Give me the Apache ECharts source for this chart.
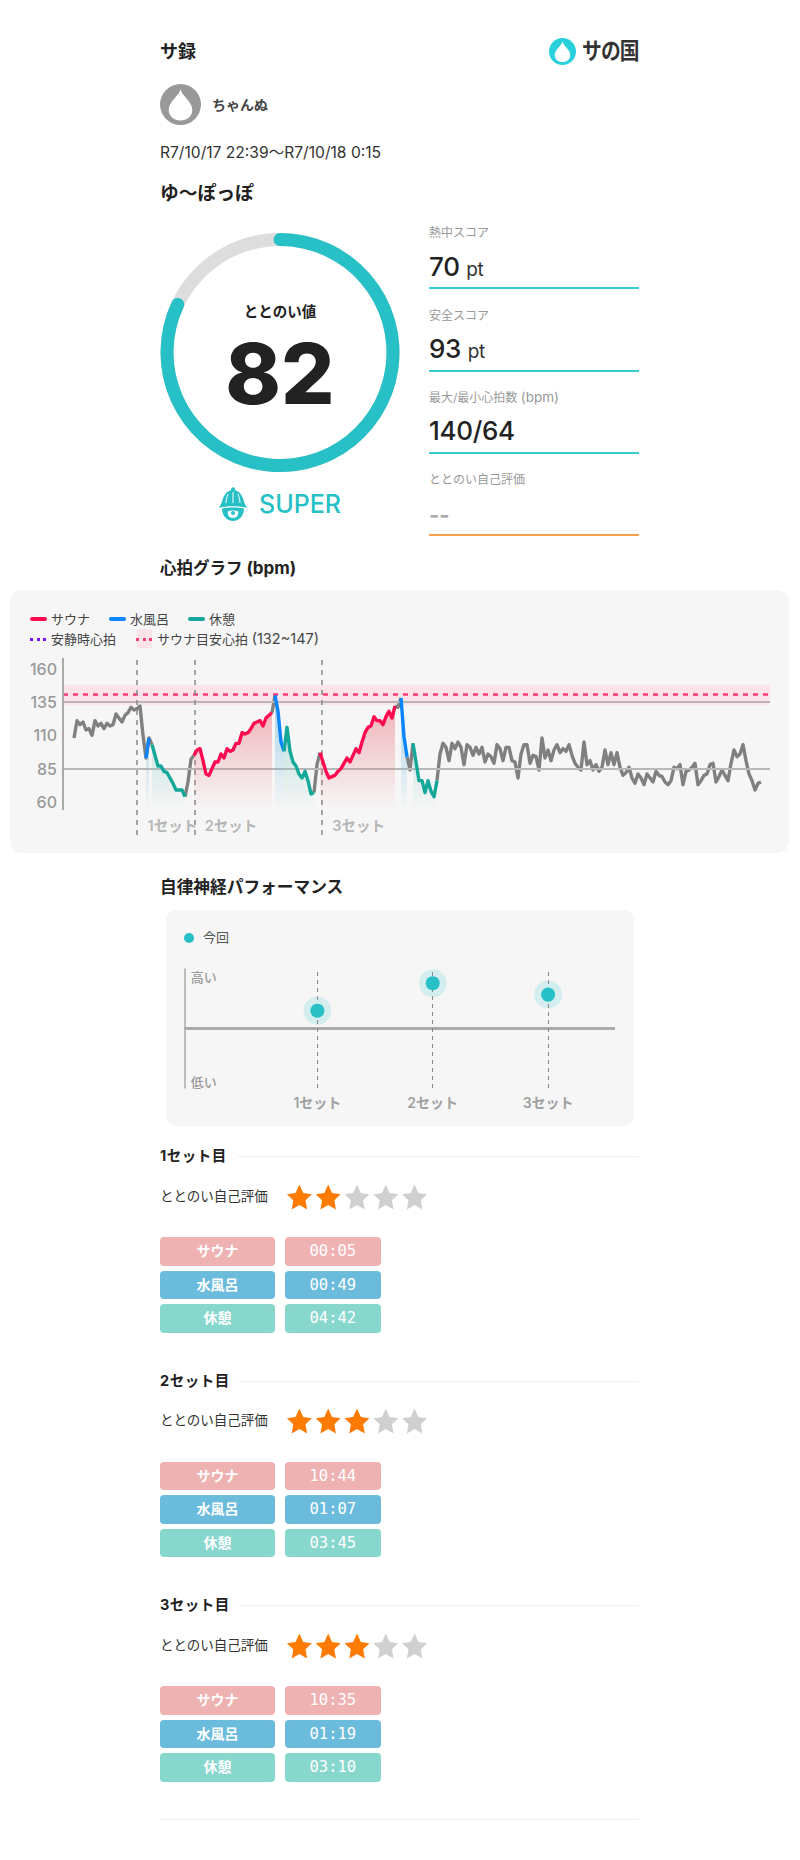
<!DOCTYPE html>
<html lang="ja">
<head>
<meta charset="utf-8">
<title>サ録</title>
<script src="https://cdn.jsdelivr.net/npm/echarts@6/dist/echarts.min.js"></script>
<style>
html,body{margin:0;padding:0;background:#fff;}
body{position:relative;width:800px;height:1860px;overflow:hidden;font-family:Inter,"Noto Sans CJK JP",sans-serif;color:#222;}
.t{position:absolute;white-space:nowrap;transform:translateY(-50%);line-height:1;}
.box{position:absolute;}
.b{font-weight:700;}
.lab{font-size:12px;color:#999;left:429px;}
.num{font-size:26px;font-weight:500;left:429px;color:#222;letter-spacing:-.3px;}
.num small{font-size:19px;font-weight:400;color:#333;}
.rule{position:absolute;left:429px;width:210px;height:2px;background:#35ccd4;}
.panel{position:absolute;background:#f6f6f6;}
.leg{font-size:13px;color:#444;}
.cell{position:absolute;height:28.5px;line-height:28.5px;border-radius:4px;color:#fff;text-align:center;font-size:14px;font-weight:700;}
.cell.time{font-family:"DejaVu Sans Mono",monospace;font-size:15.5px;font-weight:400;}
</style>
</head>
<body>
<div class="t b" style="left:160px;top:52px;font-size:18px;">サ録</div>
<svg class="box" style="left:549px;top:38px;" width="27" height="27" viewBox="0 0 40 40"><circle cx="20" cy="20" r="20" fill="#2ad0dc"/><path d="M20 5C21 11 31.5 17 31.5 25C31.5 31.5 26.5 35.5 20 35.5C13.5 35.5 8.5 31.5 8.5 25C8.5 17 19 11 20 5Z" fill="#fff"/></svg>
<div class="t b" style="left:582px;top:51px;font-size:23px;color:#333;letter-spacing:-1px;transform:translateY(-50%) scaleX(.86);transform-origin:left center;">サの国</div>

<svg class="box" style="left:160px;top:84px;" width="41" height="41" viewBox="0 0 40 40"><circle cx="20" cy="20" r="20" fill="#999"/><path d="M20 5C21 11 31.5 17 31.5 25C31.5 31.5 26.5 35.5 20 35.5C13.5 35.5 8.5 31.5 8.5 25C8.5 17 19 11 20 5Z" fill="#fff"/></svg>
<div class="t b" style="left:212px;top:104.5px;font-size:14px;color:#444;">ちゃんぬ</div>
<div class="t" style="left:160px;top:153px;font-size:15.6px;color:#333;">R7/10/17 22:39～R7/10/18 0:15</div>
<div class="t b" style="left:160px;top:194px;font-size:18.8px;">ゆ〜ぽっぽ</div>

<div id="ringChart" class="box" style="left:150px;top:223px;width:260px;height:260px;"></div>

<svg class="box" style="left:219px;top:487px;" width="28" height="34" viewBox="0 0 28 34"><circle cx="14" cy="2.2" r="2" fill="#26c0c6"/><path d="M14 3C21 3 24 10 25 15L28 21C22 18.5 6 18.5 0 21L3 15C4 10 7 3 14 3Z" fill="#26c0c6"/><path d="M14 5V16M9 7C8 10 7 13 7 16M19 7C20 10 21 13 21 16" stroke="#fff" stroke-width="1" fill="none"/><path d="M3 21.5C6 20 22 20 25 21.5C25 29 20 34 14 34C8 34 3 29 3 21.5Z" fill="#26c0c6"/><path d="M8.5 24.5C11 23 17 23 19.5 24.5L18.5 29C17 31.5 11 31.5 9.5 29Z" fill="#fff"/><circle cx="14" cy="26" r="2" fill="#26c0c6"/></svg>
<div class="t" style="left:259px;top:504px;font-size:25px;font-weight:500;color:#26c0c6;">SUPER</div>

<div class="t lab" style="top:233px;">熱中スコア</div>
<div class="t num" style="top:266.5px;">70 <small>pt</small></div>
<div class="rule" style="top:287px;"></div>
<div class="t lab" style="top:315.5px;">安全スコア</div>
<div class="t num" style="top:349px;">93 <small>pt</small></div>
<div class="rule" style="top:369.5px;"></div>
<div class="t lab" style="top:398px;">最大/最小心拍数 <span style="font-size:13.5px;">(bpm)</span></div>
<div class="t num" style="top:431px;">140/64</div>
<div class="rule" style="top:452px;"></div>
<div class="t lab" style="top:480px;">ととのい自己評価</div>
<div class="t b" style="left:429px;top:515px;font-size:22px;color:#aaa;">--</div>
<div class="rule" style="top:529.5px;height:1px;background:#f4f4f4;"></div>
<div class="rule" style="top:533.5px;background:#f8a04c;"></div>

<div class="t b" style="left:160px;top:568px;font-size:16.5px;">心拍グラフ <span style="font-size:17px;">(bpm)</span></div>
<div class="panel" style="left:10px;top:590px;width:779px;height:263px;border-radius:12px;"></div>
<div class="box" style="left:30px;top:617px;width:17px;height:4px;border-radius:2px;background:#ff0a50;"></div>
<div class="t leg" style="left:51px;top:619px;">サウナ</div>
<div class="box" style="left:109px;top:617px;width:17px;height:4px;border-radius:2px;background:#0a84ff;"></div>
<div class="t leg" style="left:130px;top:619px;">水風呂</div>
<div class="box" style="left:188px;top:617px;width:17px;height:4px;border-radius:2px;background:#14a89a;"></div>
<div class="t leg" style="left:209px;top:619px;">休憩</div>
<div class="box" style="left:30px;top:637.5px;width:16px;height:0;border-top:3px dotted #7a10ff;"></div>
<div class="t leg" style="left:51px;top:639px;">安静時心拍</div>
<div class="box" style="left:137px;top:629px;width:15px;height:19px;background:#fce3ea;"></div>
<div class="box" style="left:136px;top:637.5px;width:16px;height:0;border-top:3px dotted #ff3d78;"></div>
<div class="t leg" style="left:157px;top:639px;">サウナ目安心拍 <span style="font-size:14.5px;">(132~147)</span></div>
<div id="hrChart" class="box" style="left:10px;top:590px;width:779px;height:263px;"></div>

<div class="t b" style="left:160px;top:887px;font-size:16.7px;">自律神経パフォーマンス</div>
<div class="panel" style="left:166px;top:910px;width:468px;height:216px;border-radius:10px;"></div>
<div class="box" style="left:184px;top:933px;width:10px;height:10px;border-radius:50%;background:#26c0c6;"></div>
<div class="t" style="left:203px;top:937px;font-size:13px;color:#555;">今回</div>
<div id="ansChart" class="box" style="left:166px;top:910px;width:468px;height:216px;"></div>

<div id="sets"></div>
<div class="box" style="left:160px;top:1819px;width:479px;height:1px;background:#f0f0f0;"></div>

<script>
// heart rate, one value every 3px of plot width
const bpmValues = [
  108,121,118,120,114,115,110,121,117,119,115,119,117,118,126,123,120,125,127,131,129,130,132,
  110,93,108,103,95,87,87,83,82,78,74,69,69,69,64,75,92,95,
  99,100,91,81,80,85,90,90,96,93,100,98,99,104,104,112,111,112,115,119,120,121,117,123,125,127,
  140,128,105,98,116,98,90,87,81,78,83,76,66,67,88,97,
  90,83,78,79,80,83,85,89,93,90,95,100,97,105,112,116,117,124,121,121,118,124,128,123,132,131,138,
  109,94,84,104,90,76,76,67,76,68,64,76,
  96,104,101,91,104,100,105,101,88,103,101,95,101,96,101,90,96,94,89,103,100,91,101,101,91,90,78,96,
  103,103,89,95,94,84,108,93,99,91,99,103,97,100,98,103,95,89,86,84,105,88,91,84,88,83,86,99,88,97,88,97,
  86,80,82,86,78,74,81,78,73,81,78,75,83,80,79,75,73,76,86,85,88,73,83,84,86,89,73,76,80,81,88,89,75,79,84,80,76,89,
  99,94,96,103,91,81,76,69,74,75
];
// index ranges of bpmValues per phase
const saunaRanges = [[40,66],[82,107]];
const waterRanges = [[24,25],[67,70],[109,111]];
const restRanges = [[26,37],[70,80],[113,121]];
const otherRanges = [[0,24],[25,26],[37,40],[66,67],[80,82],[107,109],[111,113],[121,229]];
const bpmTicks = [60,85,110,135,160];
const guideLines = [85,135];
const targetBand = [133,148];
const targetLine = 140.7;
const setStarts = [21,40.1,82.6];
const setNames = ['1セット','2セット','3セット'];

const ringValue = 82;
const ringName = 'ととのい値';

const ansValues = [0.30,0.76,0.57];
const ansLabels = ['低い','高い'];

const setTitles = ['1セット目','2セット目','3セット目'];
const setRatings = [2,3,3];
const saunaTimes = ['00:05','10:44','10:35'];
const waterTimes = ['00:49','01:07','01:19'];
const restTimes = ['04:42','03:45','03:10'];
const setTops = [1156,1380.6,1605];

const FONT = 'Inter,"Noto Sans CJK JP",sans-serif';
const STAR = 'path://M12 1l3.4 7.2 7.6 1-5.6 5.3 1.4 7.8-6.8-3.8-6.8 3.8 1.4-7.8L1 9.2l7.6-1z';

function chart_init(id){
    return echarts.init(document.getElementById(id),null,{renderer:'svg'});
}
function fade(top,bottom){
    return new echarts.graphic.LinearGradient(0,0,0,1,[{offset:0,color:top},{offset:1,color:bottom}]);
}
function pick(ranges){
    return bpmValues.map((v,i)=>[i, ranges.some(r=>i>=r[0]&&i<=r[1]) ? v : null]);
}
function phase_series(name,ranges,color,area){
    let s = {
        name:name,type:'line',data:pick(ranges),symbol:'none',animation:false,silent:true,
        connectNulls:false,lineStyle:{color:color,width:3.4,join:'round'},z:5
    };
    if(area) s.areaStyle = {origin:54,opacity:1,color:fade(area[0],area[1])};
    return s;
}

// ring
chart_init('ringChart').setOption({
    animation:false,
    series:[{
        type:'gauge',center:[130,129.5],radius:119.5,startAngle:90,endAngle:-270,min:0,max:100,
        pointer:{show:false},axisTick:{show:false},splitLine:{show:false},axisLabel:{show:false},
        axisLine:{lineStyle:{width:13,color:[[1,'#dddddd']]}},
        progress:{show:true,roundCap:true,width:13,itemStyle:{color:'#26c0c6'}},
        data:[{
            value:ringValue,name:ringName,
            title:{offsetCenter:[0,-41],fontSize:14.5,fontWeight:700,color:'#222',fontFamily:FONT},
            detail:{offsetCenter:[0,20.5],fontSize:84,fontWeight:800,color:'#222',fontFamily:FONT,valueAnimation:false}
        }]
    }]
});

// heart rate
let otherSeries = phase_series('その他',otherRanges,'#808080');
otherSeries.z = 4;
otherSeries.markArea = {silent:true,itemStyle:{color:'#fce3ea'},data:[[{yAxis:targetBand[0]},{yAxis:targetBand[1]}]]};
otherSeries.markLine = {
    silent:true,symbol:'none',animation:false,label:{show:false},
    data:[
        {yAxis:guideLines[0],lineStyle:{color:'#b8b8b8',width:2,type:'solid'}},
        {yAxis:guideLines[1],lineStyle:{color:'#b8b8b8',width:2,type:'solid'}},
        {yAxis:targetLine,lineStyle:{color:'#ff3d78',width:2.5,type:[5,5]}},
        [{coord:[-3.667,54],lineStyle:{color:'#aaa',width:2,type:'solid'}},{coord:[-3.667,168]}]
    ].concat(setStarts.map(x=>({xAxis:x,lineStyle:{color:'#888',width:1.5,type:[5,5]}})))
};
chart_init('hrChart').setOption({
    animation:false,
    grid:{left:53,top:67,width:707,height:178},
    xAxis:{type:'value',min:-3.667,max:232,show:false},
    yAxis:{
        type:'value',min:35.25,max:168.75,
        axisLine:{show:false},axisTick:{show:false},splitLine:{show:false},
        axisLabel:{customValues:bpmTicks,margin:6,fontSize:16,fontWeight:500,color:'#999',fontFamily:FONT}
    },
    series:[
        otherSeries,
        phase_series('サウナ',saunaRanges,'#ff0a50',['rgba(232,110,120,.48)','rgba(232,110,120,0)']),
        phase_series('水風呂',waterRanges,'#0a84ff',['rgba(100,180,220,.55)','rgba(100,180,220,0)']),
        phase_series('休憩',restRanges,'#14a89a',['rgba(110,200,185,.42)','rgba(110,200,185,0)']),
        {
            type:'scatter',symbolSize:1,silent:true,animation:false,itemStyle:{color:'transparent'},
            data:setStarts.map(x=>[x,42.75]),
            label:{show:true,position:'right',distance:10,fontSize:14.5,fontWeight:600,color:'#a5a5a5',fontFamily:FONT,
                formatter:p=>setNames[p.dataIndex]}
        }
    ]
});

// autonomic nerve chart
chart_init('ansChart').setOption({
    animation:false,
    grid:{left:18.7,top:59,width:430.3,height:119},
    xAxis:{
        type:'value',min:-0.15,max:3.58,
        axisLine:{show:false},axisTick:{show:false},splitLine:{show:false},
        axisLabel:{customValues:[1,2,3],margin:7,fontSize:14,fontWeight:600,color:'#a0a0a0',fontFamily:FONT,
            formatter:v=>setNames[v-1]}
    },
    yAxis:{
        type:'value',min:-1,max:1,
        axisLine:{show:true,onZero:false,lineStyle:{color:'#aaa',width:1.5}},axisTick:{show:false},splitLine:{show:false},
        axisLabel:{inside:true,customValues:[-0.9,0.86],margin:6,fontSize:13,fontWeight:500,color:'#999',fontFamily:FONT,
            formatter:v=>ansLabels[v<0?0:1]}
    },
    series:[
        {
            type:'scatter',symbolSize:28,silent:true,itemStyle:{color:'rgba(38,192,198,.2)'},
            data:ansValues.map((v,i)=>[i+1,v]),
            markLine:{
                silent:true,symbol:'none',animation:false,label:{show:false},
                data:[
                    {yAxis:0,lineStyle:{color:'#aaa',width:3,type:'solid'}},
                    {xAxis:1,lineStyle:{color:'#888',width:1,type:[4,4]}},
                    {xAxis:2,lineStyle:{color:'#888',width:1,type:[4,4]}},
                    {xAxis:3,lineStyle:{color:'#888',width:1,type:[4,4]}}
                ]
            }
        },
        {type:'scatter',symbolSize:14,silent:true,itemStyle:{color:'#26c0c6',opacity:1},data:ansValues.map((v,i)=>[i+1,v]),z:6}
    ]
});

// set sections
const sets = document.getElementById('sets');
function add_cell(left,width,top,color,text,time){
    let d = document.createElement('div');
    d.className = 'cell'+(time?' time':'');
    d.style.cssText = `left:${left}px;width:${width}px;top:${top}px;background:${color};`;
    d.textContent = text;
    sets.appendChild(d);
}
function add_text(left,top,size,text,weight,color,extra){
    let d = document.createElement('div');
    d.className = 't';
    d.style.cssText = `left:${left}px;top:${top}px;font-size:${size}px;font-weight:${weight};color:${color};${extra||''}`;
    d.textContent = text;
    sets.appendChild(d);
}
setTitles.forEach((title,n)=>{
    let y = setTops[n];
    add_text(160,y,14.5,title,700,'#222','letter-spacing:.5px;');
    let line = document.createElement('div');
    line.className = 'box';
    line.style.cssText = `left:238px;top:${y}px;width:401px;height:1px;background:#f0f0f0;`;
    sets.appendChild(line);
    add_text(160,y+40.5,13.5,'ととのい自己評価',400,'#333');

    let star = document.createElement('div');
    star.id = 'star'+n;
    star.className = 'box';
    star.style.cssText = `left:285px;top:${y+25.5}px;width:143.5px;height:30px;`;
    sets.appendChild(star);
    chart_init(star.id).setOption({
        animation:false,
        grid:{left:0,right:0,top:0,bottom:0},
        xAxis:{type:'value',min:-0.5,max:4.5,show:false},
        yAxis:{type:'value',min:0,max:1,show:false},
        series:[{
            type:'scatter',symbol:STAR,symbolSize:25,silent:true,
            data:[0,1,2,3,4].map(i=>({value:[i,0.5],itemStyle:{color:i<setRatings[n]?'#ff7a00':'#d0d0d0',opacity:1}}))
        }]
    });

    [[saunaTimes,'サウナ','#efb2b2',81.3],[waterTimes,'水風呂','#6bbcdc',114.7],[restTimes,'休憩','#87d7cd',148]].forEach(r=>{
        add_cell(160,115,y+r[3],r[2],r[1],false);
        add_cell(285,95.7,y+r[3],r[2],r[0][n],true);
    });
});
</script>
</body>
</html>
